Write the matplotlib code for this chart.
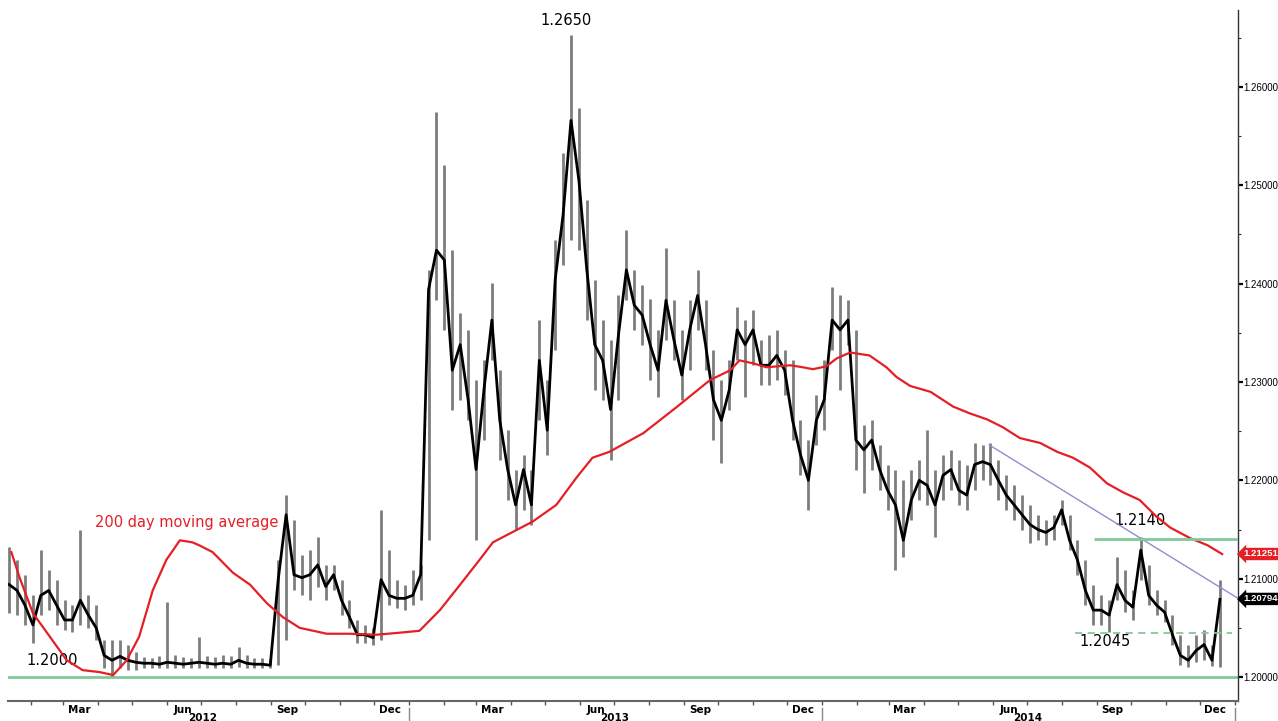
import matplotlib
matplotlib.use("Agg")
import matplotlib.pyplot as plt
import matplotlib.dates as mdates
import matplotlib.transforms as mtransforms
import numpy as np
import pandas as pd

# ---------------- data (EUR/CHF, weekly bars) ----------------
week_start = "2012-01-13"
close = [1.2094, 1.2088, 1.2073, 1.2053, 1.2083, 1.2088, 1.2073, 1.2058, 1.2058, 1.2078,
         1.2063, 1.2050, 1.2022, 1.2017, 1.2021, 1.2017, 1.2015, 1.2014, 1.2014, 1.2013,
         1.2015, 1.2014, 1.2013, 1.2014, 1.2015, 1.2014, 1.2013, 1.2014, 1.2013, 1.2017,
         1.2014, 1.2013, 1.2013, 1.2012, 1.2099, 1.2165, 1.2104, 1.2101, 1.2104, 1.2114,
         1.2092, 1.2104, 1.2078, 1.2061, 1.2043, 1.2043, 1.2040, 1.2099, 1.2083, 1.2080,
         1.2080, 1.2083, 1.2104, 1.2394, 1.2434, 1.2424, 1.2312, 1.2338, 1.2282, 1.2211,
         1.2292, 1.2363, 1.2261, 1.2211, 1.2175, 1.2211, 1.2175, 1.2322, 1.2251, 1.2404,
         1.2470, 1.2566, 1.2505, 1.2414, 1.2338, 1.2322, 1.2272, 1.2348, 1.2414, 1.2378,
         1.2368, 1.2338, 1.2312, 1.2383, 1.2343, 1.2307, 1.2353, 1.2388, 1.2338, 1.2282,
         1.2261, 1.2292, 1.2353, 1.2338, 1.2353, 1.2317, 1.2317, 1.2327, 1.2312, 1.2261,
         1.2226, 1.2200, 1.2261, 1.2282, 1.2363, 1.2353, 1.2363, 1.2241, 1.2231, 1.2241,
         1.2211, 1.2190, 1.2175, 1.2139, 1.2180, 1.2200, 1.2195, 1.2175, 1.2205, 1.2211,
         1.2190, 1.2185, 1.2216, 1.2219, 1.2216, 1.2200, 1.2185, 1.2175, 1.2165, 1.2155,
         1.2150, 1.2147, 1.2152, 1.2170, 1.2139, 1.2119, 1.2088, 1.2068, 1.2068, 1.2063,
         1.2094, 1.2078, 1.2071, 1.2129, 1.2083, 1.2073, 1.2066, 1.2043, 1.2022, 1.2017,
         1.2027, 1.2033, 1.2017, 1.2079]
high = [1.2132, 1.2119, 1.2104, 1.2083, 1.2129, 1.2109, 1.2099, 1.2078, 1.2073, 1.2150,
        1.2083, 1.2073, 1.2038, 1.2038, 1.2038, 1.2033, 1.2025, 1.2020, 1.2019, 1.2021,
        1.2076, 1.2022, 1.2020, 1.2019, 1.2041, 1.2021, 1.2020, 1.2022, 1.2021, 1.2031,
        1.2022, 1.2019, 1.2019, 1.2018, 1.2119, 1.2185, 1.2160, 1.2124, 1.2129, 1.2142,
        1.2114, 1.2114, 1.2099, 1.2078, 1.2058, 1.2053, 1.2050, 1.2170, 1.2129, 1.2099,
        1.2094, 1.2109, 1.2114, 1.2414, 1.2575, 1.2521, 1.2434, 1.2370, 1.2353, 1.2302,
        1.2322, 1.2401, 1.2312, 1.2251, 1.2211, 1.2226, 1.2211, 1.2363, 1.2302, 1.2444,
        1.2533, 1.2653, 1.2579, 1.2485, 1.2404, 1.2363, 1.2343, 1.2388, 1.2455, 1.2414,
        1.2399, 1.2384, 1.2353, 1.2436, 1.2383, 1.2353, 1.2383, 1.2414, 1.2383, 1.2333,
        1.2302, 1.2322, 1.2376, 1.2363, 1.2373, 1.2343, 1.2348, 1.2353, 1.2333, 1.2322,
        1.2261, 1.2241, 1.2287, 1.2322, 1.2397, 1.2388, 1.2383, 1.2353, 1.2256, 1.2261,
        1.2236, 1.2216, 1.2211, 1.2200, 1.2211, 1.2221, 1.2251, 1.2211, 1.2226, 1.2231,
        1.2221, 1.2216, 1.2238, 1.2236, 1.2238, 1.2221, 1.2205, 1.2195, 1.2185, 1.2175,
        1.2165, 1.2160, 1.2165, 1.2180, 1.2165, 1.2139, 1.2119, 1.2094, 1.2083, 1.2078,
        1.2122, 1.2109, 1.2088, 1.2142, 1.2114, 1.2088, 1.2078, 1.2063, 1.2043, 1.2033,
        1.2043, 1.2048, 1.2033, 1.2099]
low = [1.2065, 1.2063, 1.2053, 1.2035, 1.2063, 1.2068, 1.2053, 1.2048, 1.2046, 1.2053,
       1.2050, 1.2038, 1.2009, 1.2001, 1.2009, 1.2007, 1.2007, 1.2009, 1.2009, 1.2009,
       1.2009, 1.2009, 1.2009, 1.2009, 1.2009, 1.2009, 1.2009, 1.2009, 1.2009, 1.2010,
       1.2009, 1.2009, 1.2009, 1.2009, 1.2012, 1.2038, 1.2088, 1.2083, 1.2078, 1.2092,
       1.2078, 1.2088, 1.2063, 1.2050, 1.2035, 1.2035, 1.2033, 1.2038, 1.2073, 1.2070,
       1.2068, 1.2073, 1.2078, 1.2139, 1.2383, 1.2353, 1.2272, 1.2282, 1.2261, 1.2139,
       1.2241, 1.2322, 1.2221, 1.2180, 1.2150, 1.2170, 1.2155, 1.2261, 1.2226, 1.2333,
       1.2419, 1.2444, 1.2434, 1.2363, 1.2292, 1.2282, 1.2221, 1.2282, 1.2383, 1.2353,
       1.2338, 1.2302, 1.2285, 1.2343, 1.2322, 1.2282, 1.2312, 1.2353, 1.2312, 1.2241,
       1.2218, 1.2272, 1.2322, 1.2285, 1.2317, 1.2297, 1.2297, 1.2302, 1.2287, 1.2241,
       1.2205, 1.2170, 1.2236, 1.2251, 1.2333, 1.2292, 1.2338, 1.2211, 1.2187, 1.2211,
       1.2190, 1.2170, 1.2109, 1.2122, 1.2160, 1.2180, 1.2175, 1.2142, 1.2180, 1.2190,
       1.2175, 1.2170, 1.2190, 1.2200, 1.2195, 1.2180, 1.2170, 1.2160, 1.2150, 1.2136,
       1.2139, 1.2134, 1.2139, 1.2155, 1.2129, 1.2104, 1.2073, 1.2053, 1.2053, 1.2046,
       1.2078, 1.2066, 1.2058, 1.2099, 1.2073, 1.2063, 1.2056, 1.2033, 1.2012, 1.2010,
       1.2015, 1.2017, 1.2011, 1.2010]

# 200 day moving average
ma_dates = ["2012-01-15", "2012-01-22", "2012-02-03", "2012-02-18", "2012-03-04", "2012-03-18",
            "2012-04-02", "2012-04-14", "2012-04-26", "2012-05-07", "2012-05-19", "2012-05-31",
            "2012-06-12", "2012-06-23", "2012-06-29", "2012-07-11", "2012-07-29", "2012-08-13",
            "2012-08-28", "2012-09-11", "2012-09-26", "2012-10-20", "2012-11-09", "2012-12-03",
            "2012-12-23", "2013-01-10", "2013-01-28", "2013-02-15", "2013-03-04", "2013-03-16",
            "2013-03-31", "2013-04-20", "2013-05-11", "2013-05-29", "2013-06-12", "2013-06-27",
            "2013-07-27", "2013-08-26", "2013-09-24", "2013-10-12", "2013-10-20", "2013-11-01",
            "2013-11-13", "2013-12-04", "2013-12-15", "2013-12-24", "2014-01-05", "2014-01-14",
            "2014-01-26", "2014-02-12", "2014-02-27", "2014-03-08", "2014-03-20", "2014-04-07",
            "2014-04-15", "2014-04-27", "2014-05-12", "2014-05-27", "2014-06-10", "2014-06-25",
            "2014-07-13", "2014-07-28", "2014-08-11", "2014-08-26", "2014-09-10", "2014-09-24",
            "2014-10-09", "2014-10-24", "2014-11-05", "2014-11-23", "2014-12-08", "2014-12-21"]
ma_values = [1.2127, 1.2102, 1.2065, 1.2041, 1.2017, 1.2007, 1.2005, 1.2002, 1.2017, 1.2041,
             1.2088, 1.2119, 1.2139, 1.2137, 1.2134, 1.2127, 1.2106, 1.2094, 1.2075, 1.2061,
             1.2050, 1.2044, 1.2044, 1.2043, 1.2045, 1.2047, 1.2068, 1.2094, 1.2119, 1.2137,
             1.2146, 1.2158, 1.2175, 1.2203, 1.2223, 1.2229, 1.2248, 1.2275, 1.2302, 1.2312,
             1.2322, 1.2319, 1.2315, 1.2317, 1.2315, 1.2313, 1.2316, 1.2324, 1.2330, 1.2327,
             1.2315, 1.2305, 1.2296, 1.2290, 1.2284, 1.2275, 1.2268, 1.2262, 1.2254, 1.2243,
             1.2238, 1.2229, 1.2223, 1.2213, 1.2197, 1.2188, 1.2180, 1.2163, 1.2152, 1.2141,
             1.2134, 1.2125]

# trendline and levels
trend_dates = ["2014-05-29", "2015-01-04"]
trend_values = [1.2236, 1.2080]
level_low = 1.2000
level_res = 1.2140
res_start = "2014-08-30"
level_sup = 1.2045
sup_dates = ["2014-08-13", "2014-12-30"]
last_ma = 1.21251
last_price = 1.20794

yticks = [1.20, 1.21, 1.22, 1.23, 1.24, 1.25, 1.26]
ytick_labels = ["1.20000", "1.21000", "1.22000", "1.23000", "1.24000", "1.25000", "1.26000"]
years = [2012, 2013, 2014]

NARROW = ["Liberation Sans Narrow", "Liberation Sans", "DejaVu Sans"]

# ---------------- figure ----------------
W, H = 1278, 721
fig = plt.figure(figsize=(W / 100, H / 100), dpi=100)
ax = fig.add_axes([8 / W, 20 / H, 1230 / W, 691 / H])

dates = pd.date_range(week_start, periods=len(close), freq="7D")
xmin, xmax = pd.Timestamp("2012-01-12"), pd.Timestamp("2015-01-04")
ax.set_xlim(xmin, xmax)
ax.set_ylim(1.19756, 1.26783)

GREEN = "#82c99b"
RED = "#e41f26"

# 1.2000 floor
ax.axhline(level_low, color=GREEN, lw=2, zorder=1)

# bars
ax.vlines(dates, low, high, color="#7d7d7d", lw=2.0, zorder=2)
ax.plot(dates, close, color="black", lw=2.0, zorder=3)

# moving average
ax.plot(pd.to_datetime(ma_dates), ma_values, color=RED, lw=1.6, zorder=4)

# trendline
ax.plot(pd.to_datetime(trend_dates), trend_values, color="#8c8fd0", lw=1.0, zorder=4)

# resistance & support
ax.hlines(level_res, pd.Timestamp(res_start), xmax, color=GREEN, lw=2, zorder=4)
ax.hlines(level_sup, pd.Timestamp(sup_dates[0]), pd.Timestamp(sup_dates[1]),
          color=GREEN, lw=1.3, linestyles=(0, (4, 3)), zorder=4)

# annotations
ax.text(pd.Timestamp("2013-05-20"), 1.2668, "1.2650", ha="center", va="center", fontsize=10.5)
ax.text(pd.Timestamp("2012-03-29"), 1.2157, "200 day moving average", ha="left",
        va="center", fontsize=10.5, color=RED)
ax.text(pd.Timestamp("2012-02-20"), 1.2017, "1.2000", ha="center", va="center", fontsize=10.5)
ax.text(pd.Timestamp("2014-10-09"), 1.2159, "1.2140", ha="center", va="center", fontsize=10.5)
ax.text(pd.Timestamp("2014-09-08"), 1.2036, "1.2045", ha="center", va="center", fontsize=10.5)

# spines
for s in ["left", "top"]:
    ax.spines[s].set_visible(False)
ax.spines["right"].set_color("#333333")
ax.spines["right"].set_linewidth(1.0)
ax.spines["bottom"].set_color("#666666")
ax.spines["bottom"].set_linewidth(1.5)

# y axis on right
ax.yaxis.tick_right()
ax.set_yticks(yticks)
ax.set_yticklabels(ytick_labels, family=NARROW)
ax.set_yticks([v + 0.005 for v in yticks[:-1]] + [1.265], minor=True)
ax.tick_params(axis="y", which="major", direction="out", length=3.5, width=1.6,
               labelsize=7, pad=0.5, colors="black")
ax.tick_params(axis="y", which="minor", direction="out", length=2.5, width=0.8, color="#333333")

# x axis: month boundary ticks, quarter labels mid-month
ax.xaxis.set_major_locator(mdates.MonthLocator())
ax.xaxis.set_major_formatter(plt.NullFormatter())
ax.xaxis.set_minor_locator(mdates.MonthLocator(bymonth=[3, 6, 9, 12], bymonthday=15))
ax.xaxis.set_minor_formatter(mdates.DateFormatter("%b"))
ax.tick_params(axis="x", which="major", direction="out", length=3, width=1, color="#555555")
ax.tick_params(axis="x", which="minor", length=0, labelsize=7.5, pad=3)
for lab in ax.xaxis.get_minorticklabels():
    lab.set_fontweight("bold")

trans = mtransforms.blended_transform_factory(ax.transData, ax.transAxes)
for yr in years:
    ax.text(pd.Timestamp(f"{yr}-07-02"), -0.017, str(yr), transform=trans, ha="center",
            va="top", fontsize=7.5, fontweight="bold")
    ax.plot([pd.Timestamp(f"{yr + 1}-01-01")] * 2, [-0.010, -0.030], transform=trans,
            color="#888888", lw=1, clip_on=False)

# right side value tags
ytrans = ax.get_yaxis_transform()
for val, col in [(last_ma, RED), (last_price, "black")]:
    ax.annotate(f"{val:.5f}", xy=(1, val), xycoords=ytrans, xytext=(4, 0),
                textcoords="offset points", ha="left", va="center", fontsize=6.8,
                fontweight="bold", color="white", family=NARROW,
                bbox=dict(boxstyle="larrow,pad=0.18", fc=col, ec="none"))

fig.savefig("out.png", dpi=100)
